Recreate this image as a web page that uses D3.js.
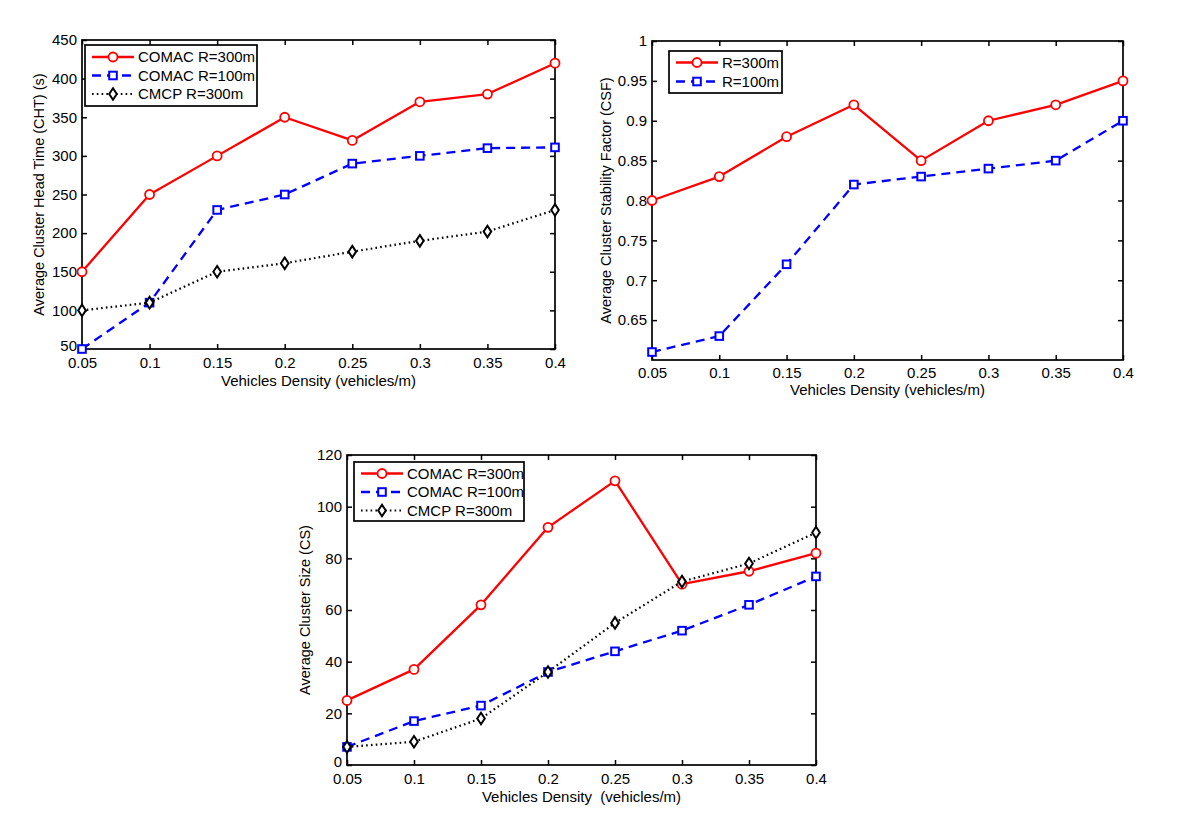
<!DOCTYPE html>
<html>
<head>
<meta charset="utf-8">
<script src="https://cdn.jsdelivr.net/npm/d3@7"></script>
<style>
  html, body { margin: 0; padding: 0; background: #fff; }
  svg { display: block; font-family: "Liberation Sans", Arial, Helvetica, sans-serif; }
</style>
</head>
<body>
<svg id="chart" width="1200" height="839"></svg>
<script>
// ---------------- DATA ----------------
const densities = [0.05, 0.1, 0.15, 0.2, 0.25, 0.3, 0.35, 0.4];
const xTickLabels = ["0.05", "0.1", "0.15", "0.2", "0.25", "0.3", "0.35", "0.4"];

// Chart 1: Average Cluster Head Time (CHT)
const chtComac300 = [150, 250, 300, 350, 320, 370, 380, 420];
const chtComac100 = [50, 110, 230, 250, 290, 300, 310, 311];
const chtCmcp300  = [100, 110, 150, 161, 176, 190, 202, 230];
const chtTicks = [50, 100, 150, 200, 250, 300, 350, 400, 450];
const chtTickLabels = ["50", "100", "150", "200", "250", "300", "350", "400", "450"];

// Chart 2: Average Cluster Stability Factor (CSF)
const csfR300 = [0.80, 0.83, 0.88, 0.92, 0.85, 0.90, 0.92, 0.95];
const csfR100 = [0.61, 0.63, 0.72, 0.82, 0.83, 0.84, 0.85, 0.90];
const csfTicks = [0.65, 0.7, 0.75, 0.8, 0.85, 0.9, 0.95, 1];
const csfTickLabels = ["0.65", "0.7", "0.75", "0.8", "0.85", "0.9", "0.95", "1"];

// Chart 3: Average Cluster Size (CS)
const csComac300 = [25, 37, 62, 92, 110, 70, 75, 82];
const csComac100 = [7, 17, 23, 36, 44, 52, 62, 73];
const csCmcp300  = [7, 9, 18, 36, 55, 71, 78, 90];
const csTicks = [0, 20, 40, 60, 80, 100, 120];
const csTickLabels = ["0", "20", "40", "60", "80", "100", "120"];

const legendComac = ["COMAC R=300m", "COMAC R=100m", "CMCP R=300m"];
const legendCsf = ["R=300m", "R=100m"];

// ---------------- STYLES ----------------
const styles = {
  red:   { color: "#ff0000", dash: null,      width: 2.3, marker: "circle" },
  blue:  { color: "#0000ff", dash: "9,6",     width: 2.3, marker: "square" },
  black: { color: "#000000", dash: "1.6,3.2", width: 2.2, marker: "diamond" }
};

const svg = d3.select("#chart");

function drawMarker(g, type, x, y, color) {
  if (type === "circle") {
    g.append("circle").attr("cx", x).attr("cy", y).attr("r", 4.5)
      .attr("fill", "#fff").attr("stroke", color).attr("stroke-width", 1.8);
  } else if (type === "square") {
    g.append("rect").attr("x", x - 3.8).attr("y", y - 3.8).attr("width", 7.6).attr("height", 7.6)
      .attr("fill", "#fff").attr("stroke", color).attr("stroke-width", 2);
  } else {
    g.append("path")
      .attr("d", `M${x},${y - 5.8}L${x + 3.8},${y}L${x},${y + 5.8}L${x - 3.8},${y}Z`)
      .attr("fill", "#fff").attr("stroke", color).attr("stroke-width", 2);
  }
}

function drawChart(cfg) {
  const { left, right, top, bottom } = cfg.box;
  const x = d3.scaleLinear().domain([0.05, 0.4]).range([left, right]);
  const y = d3.scaleLinear().domain(cfg.yDomain).range([bottom, top]);
  const g = svg.append("g");
  const tickLen = 5;

  // frame
  g.append("rect").attr("x", left).attr("y", top)
    .attr("width", right - left).attr("height", bottom - top)
    .attr("fill", "#fff").attr("stroke", "#000").attr("stroke-width", 1.7);

  // axes via d3 axis generators (ticks inward)
  const xAxisB = d3.axisBottom(x).tickValues(densities)
    .tickFormat((d, i) => xTickLabels[i]).tickSizeInner(-tickLen).tickSizeOuter(0).tickPadding(cfg.xPad);
  const xAxisT = d3.axisTop(x).tickValues(densities).tickFormat("").tickSizeInner(-tickLen).tickSizeOuter(0);
  const yAxisL = d3.axisLeft(y).tickValues(cfg.yTicks)
    .tickFormat((d, i) => cfg.yTickLabels[i]).tickSizeInner(-tickLen).tickSizeOuter(0).tickPadding(5);
  const yAxisR = d3.axisRight(y).tickValues(cfg.yTicks).tickFormat("").tickSizeInner(-tickLen).tickSizeOuter(0);

  const axes = [
    g.append("g").attr("transform", `translate(0,${bottom})`).call(xAxisB),
    g.append("g").attr("transform", `translate(0,${top})`).call(xAxisT),
    g.append("g").attr("transform", `translate(${left},0)`).call(yAxisL),
    g.append("g").attr("transform", `translate(${right},0)`).call(yAxisR)
  ];
  axes.forEach(a => {
    a.select(".domain").remove();
    a.selectAll(".tick line").attr("stroke", "#000").attr("stroke-width", 1.5);
    a.selectAll(".tick text").attr("fill", "#000").attr("font-size", cfg.tickFont)
      .attr("font-family", "'Liberation Sans', Arial, sans-serif");
  });
  // lowest y label sits at the corner: lift it slightly so it clears the first x label
  if (cfg.liftFirstY) {
    axes[2].selectAll(".tick text").filter((d, i) => i === 0)
      .attr("dy", "0.32em").attr("y", -cfg.liftFirstY);
  }

  // axis titles
  g.append("text").attr("x", (left + right) / 2).attr("y", cfg.xTitleY)
    .attr("text-anchor", "middle").attr("font-size", cfg.xTitleFont).attr("fill", "#000")
    .attr("xml:space", "preserve")
    .text(cfg.xTitle);
  g.append("text")
    .attr("transform", `translate(${cfg.yTitleX},${(top + bottom) / 2}) rotate(-90)`)
    .attr("text-anchor", "middle").attr("font-size", cfg.yTitleFont).attr("fill", "#000")
    .text(cfg.yTitle);

  // series
  const line = d3.line().x((d, i) => x(densities[i])).y(d => y(d));
  cfg.series.forEach(s => {
    const st = styles[s.style];
    g.append("path").datum(s.values).attr("d", line)
      .attr("fill", "none").attr("stroke", st.color).attr("stroke-width", st.width)
      .attr("stroke-dasharray", st.dash).attr("stroke-linejoin", "round");
    s.values.forEach((v, i) => drawMarker(g, st.marker, x(densities[i]), y(v), st.color));
  });

  // legend
  const L = cfg.legend;
  g.append("rect").attr("x", L.x).attr("y", L.y).attr("width", L.w).attr("height", L.h)
    .attr("fill", "#fff").attr("stroke", "#000").attr("stroke-width", 1.7);
  cfg.series.forEach((s, i) => {
    const st = styles[s.style];
    const ry = L.y + L.rowStart + i * L.rowGap;
    g.append("line").attr("x1", L.x + 7).attr("x2", L.x + 7 + L.lineLen).attr("y1", ry).attr("y2", ry)
      .attr("stroke", st.color).attr("stroke-width", st.width).attr("stroke-dasharray", st.dash);
    drawMarker(g, st.marker, L.x + 7 + L.lineLen / 2, ry, st.color);
    g.append("text").attr("x", L.x + 7 + L.lineLen + 4).attr("y", ry).attr("dy", "0.36em")
      .attr("font-size", L.font).attr("fill", "#000").text(s.name);
  });
}

// Chart 1
drawChart({
  box: { left: 82, right: 555, top: 40, bottom: 349 },
  yDomain: [50, 450], yTicks: chtTicks, yTickLabels: chtTickLabels,
  tickFont: 15, xTitleFont: 15, yTitleFont: 14.5, xPad: 8, liftFirstY: 3,
  xTitle: "Vehicles Density (vehicles/m)", xTitleY: 386,
  yTitle: "Average Cluster Head Time (CHT) (s)", yTitleX: 44,
  series: [
    { name: legendComac[0], values: chtComac300, style: "red" },
    { name: legendComac[1], values: chtComac100, style: "blue" },
    { name: legendComac[2], values: chtCmcp300, style: "black" }
  ],
  legend: { x: 85, y: 45, w: 172, h: 61, rowStart: 12, rowGap: 18.5, lineLen: 42, font: 15 }
});

// Chart 2
drawChart({
  box: { left: 652, right: 1123, top: 41, bottom: 360 },
  yDomain: [0.6, 1], yTicks: csfTicks, yTickLabels: csfTickLabels,
  tickFont: 15, xTitleFont: 15, yTitleFont: 14.5, xPad: 7, liftFirstY: 0,
  xTitle: "Vehicles Density (vehicles/m)", xTitleY: 395,
  yTitle: "Average Cluster Stability Factor (CSF)", yTitleX: 611,
  series: [
    { name: legendCsf[0], values: csfR300, style: "red" },
    { name: legendCsf[1], values: csfR100, style: "blue" }
  ],
  legend: { x: 669, y: 51, w: 113, h: 42, rowStart: 11.5, rowGap: 19, lineLen: 42, font: 15 }
});

// Chart 3
drawChart({
  box: { left: 347, right: 816, top: 455, bottom: 765 },
  yDomain: [0, 120], yTicks: csTicks, yTickLabels: csTickLabels,
  tickFont: 15, xTitleFont: 15, yTitleFont: 14.5, xPad: 8, liftFirstY: 3,
  xTitle: "Vehicles Density  (vehicles/m)", xTitleY: 802,
  yTitle: "Average Cluster Size (CS)", yTitleX: 310,
  series: [
    { name: legendComac[0], values: csComac300, style: "red" },
    { name: legendComac[1], values: csComac100, style: "blue" },
    { name: legendComac[2], values: csCmcp300, style: "black" }
  ],
  legend: { x: 354, y: 462, w: 170, h: 59, rowStart: 11.5, rowGap: 18.5, lineLen: 42, font: 15 }
});
</script>
</body>
</html>
